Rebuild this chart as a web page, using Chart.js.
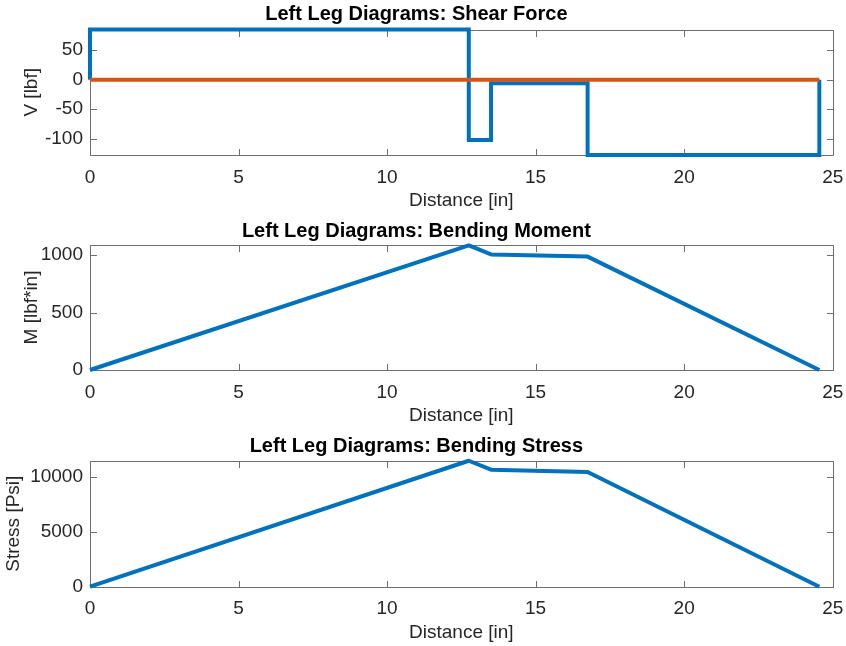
<!DOCTYPE html>
<html>
<head>
<meta charset="utf-8">
<script src="https://cdn.jsdelivr.net/npm/chart.js@4/dist/chart.umd.min.js"></script>
<style>
  html, body { margin: 0; padding: 0; background: #fff; }
  #wrap { position: relative; width: 846px; height: 646px; }
  canvas { position: absolute; left: 0; }
</style>
</head>
<body>
<div id="wrap">
  <canvas id="shear" width="846" height="215" style="top:0px"></canvas>
  <canvas id="moment" width="846" height="215" style="top:215px"></canvas>
  <canvas id="stress" width="846" height="216" style="top:430px"></canvas>
</div>
<script>
// distances along the leg [in]
const shearX = [0, 0, 12.75, 12.75, 13.5, 13.5, 16.75, 16.75, 24.55, 24.55];
const shearV = [0, 84.7, 84.7, -102, -102, -6, -6, -127.5, -127.5, 0];
const zeroX = [0, 24.55];
const zeroV = [0, 0];
const momentX = [0, 12.75, 13.5, 16.75, 24.55];
const momentM = [0, 1083, 1005, 986, 0];
const stressS = [0, 11450, 10640, 10430, 0];

const xTicks = [0, 5, 10, 15, 20, 25];
const vTicks = [-100, -50, 0, 50];
const mTicks = [0, 500, 1000];
const sTicks = [0, 5000, 10000];

const BLUE = '#0072BD';
const ORANGE = '#D95319';
const FONT = "'Liberation Sans', Arial, Helvetica, sans-serif";

const toPts = (xs, ys) => xs.map((x, i) => ({ x: x, y: ys[i] }));

// matlab style box with inward ticks on all four sides
const boxPlugin = {
  id: 'matlabBox',
  beforeDatasetsDraw(chart) {
    const { ctx, chartArea: a, scales } = chart;
    const x = scales.x, y = scales.y;
    const len = 6.5;
    ctx.save();
    ctx.strokeStyle = '#6e6e6e';
    ctx.lineWidth = 1;
    ctx.beginPath();
    const L = Math.round(a.left) + 0.5, R = Math.round(a.right) + 0.5;
    const T = Math.round(a.top) + 0.5, B = Math.round(a.bottom) + 0.5;
    ctx.rect(L, T, R - L, B - T);
    x.ticks.forEach(t => {
      const px = Math.round(x.getPixelForValue(t.value)) + 0.5;
      ctx.moveTo(px, B); ctx.lineTo(px, B - len);
      ctx.moveTo(px, T); ctx.lineTo(px, T + len);
    });
    y.ticks.forEach(t => {
      const py = Math.round(y.getPixelForValue(t.value)) + 0.5;
      ctx.moveTo(L, py); ctx.lineTo(L + len, py);
      ctx.moveTo(R, py); ctx.lineTo(R - len, py);
    });
    ctx.stroke();
    ctx.restore();
  }
};

function makeChart(id, o) {
  const ctx = document.getElementById(id).getContext('2d');
  const h = ctx.canvas.height;
  return new Chart(ctx, {
    type: 'line',
    data: { datasets: o.datasets },
    options: {
      responsive: false,
      animation: false,
      layout: { padding: { left: 0, right: 846 - 832.7, top: 0, bottom: h - o.boxBottom - 60 } },
      elements: { point: { radius: 0 } },
      plugins: {
        legend: { display: false },
        tooltip: { enabled: false },
        title: {
          display: true,
          text: o.title,
          color: '#000',
          font: { family: FONT, size: 20, weight: 'bold' },
          padding: { top: o.titlePad[0], bottom: o.titlePad[1] }
        }
      },
      scales: {
        x: {
          type: 'linear',
          min: 0, max: 25,
          grid: { display: false, drawTicks: false },
          border: { display: false },
          afterBuildTicks: s => { s.ticks = xTicks.map(v => ({ value: v })); },
          afterFit: s => { s.height = 60; s.paddingLeft = 0; s.paddingRight = 0; },
          ticks: { color: '#262626', padding: 11, maxRotation: 0, font: { family: FONT, size: 19 },
            callback: v => String(v) },
          title: {
            display: true, text: 'Distance [in]', color: '#262626',
            font: { family: FONT, size: 19 }, padding: { top: 0, bottom: 2.6 }
          }
        },
        y: {
          min: o.yMin, max: o.yMax,
          grid: { display: false, drawTicks: false },
          border: { display: false },
          afterBuildTicks: s => { s.ticks = o.yTicks.map(v => ({ value: v })); },
          afterFit: s => { s.width = 90; s.paddingTop = 0; s.paddingBottom = 0; },
          ticks: { color: '#262626', padding: 7, font: { family: FONT, size: 19 },
            callback: v => String(v) },
          title: {
            display: true, text: o.yTitle, color: '#262626',
            font: { family: FONT, size: 19 }, padding: { top: o.yTitlePad, bottom: 0 }
          }
        }
      }
    },
    plugins: [boxPlugin]
  });
}

const lineStyle = { borderWidth: 4, pointRadius: 0, fill: false, tension: 0, clip: false,
  borderJoinStyle: 'miter', borderCapStyle: 'butt' };

makeChart('shear', {
  title: 'Left Leg Diagrams: Shear Force',
  titlePad: [2.0, 3.6],
  boxBottom: 155,
  yMin: -127.5, yMax: 84.7, yTicks: vTicks,
  yTitle: 'V [lbf]', yTitlePad: 20.6,
  datasets: [
    Object.assign({ data: toPts(shearX, shearV), borderColor: BLUE, order: 1 }, lineStyle),
    Object.assign({ data: toPts(zeroX, zeroV), borderColor: ORANGE, order: 0 }, lineStyle)
  ]
});

makeChart('moment', {
  title: 'Left Leg Diagrams: Bending Moment',
  titlePad: [4.7, 1.3],
  boxBottom: 155,
  yMin: 0, yMax: 1087, yTicks: mTicks,
  yTitle: 'M [lbf*in]', yTitlePad: 20.6,
  datasets: [
    Object.assign({ data: toPts(momentX, momentM), borderColor: BLUE }, lineStyle, { borderJoinStyle: 'round' })
  ]
});

makeChart('stress', {
  title: 'Left Leg Diagrams: Bending Stress',
  titlePad: [4.7, 2.0],
  boxBottom: 156.7,
  yMin: 0, yMax: 11455, yTicks: sTicks,
  yTitle: 'Stress [Psi]', yTitlePad: 2.6,
  datasets: [
    Object.assign({ data: toPts(momentX, stressS), borderColor: BLUE }, lineStyle, { borderJoinStyle: 'round' })
  ]
});
</script>
</body>
</html>
